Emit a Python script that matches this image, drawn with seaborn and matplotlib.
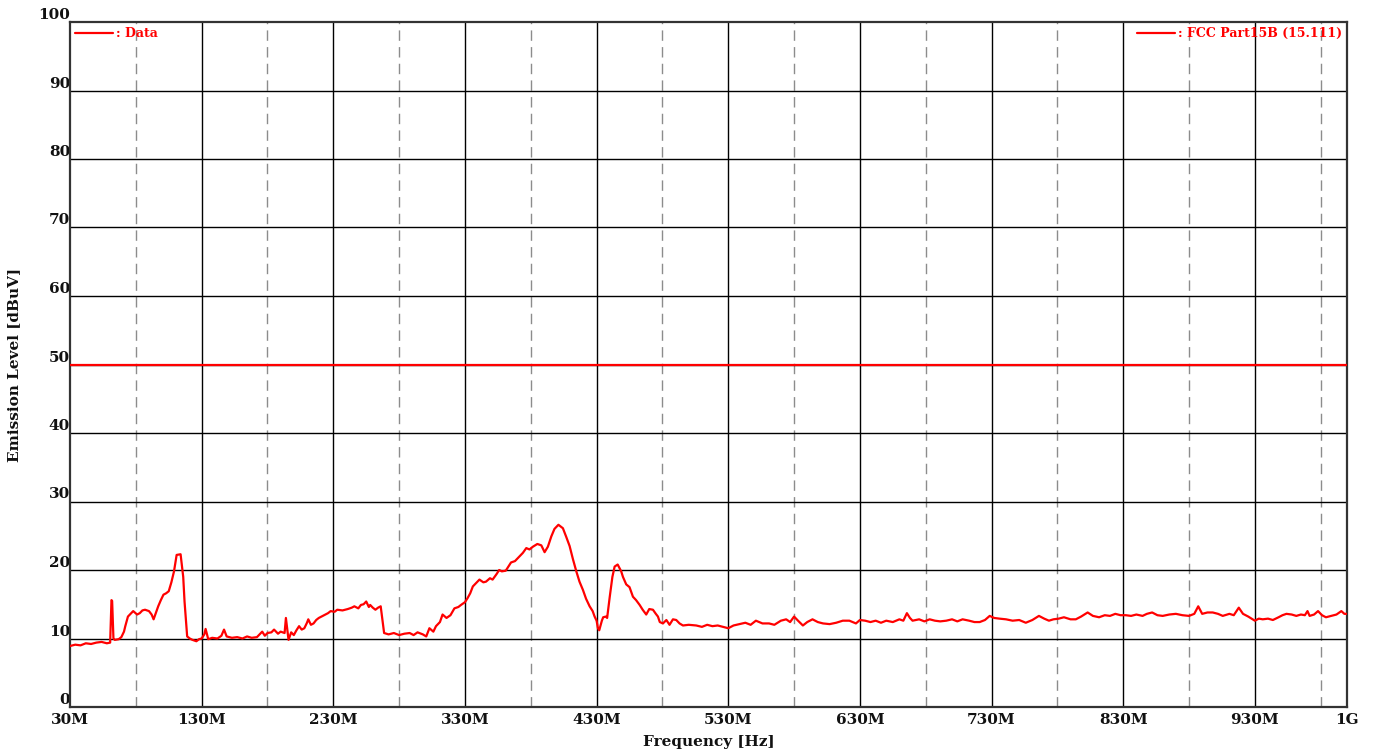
import numpy as np
import pandas as pd
import matplotlib
matplotlib.use("Agg")
import matplotlib.pyplot as plt
import seaborn as sns

# ---- data (frequency in MHz, level in dBuV) in bands ----
freq_a = [30, 34, 38, 42, 46, 50, 54, 58, 60.5, 61.5, 62, 63, 64, 67, 69, 71, 72, 74, 76, 78]
level_a = [8.9, 9.1, 9.0, 9.3, 9.2, 9.4, 9.5, 9.3, 9.4, 15.6, 15.5, 10.0, 9.8, 9.9, 10.2, 11.0, 11.8, 13.2, 13.6, 14.0]

freq_b = [81, 83, 85, 87, 90, 92, 93.5, 95, 97, 99, 101, 103, 105, 107, 109, 111, 114, 116, 117, 119]
level_b = [13.5, 13.7, 14.1, 14.2, 14.0, 13.5, 12.8, 13.6, 14.7, 15.6, 16.4, 16.6, 16.9, 18.2, 19.8, 22.2, 22.3, 19.0, 15.4, 10.3]

freq_c = [121, 123, 126, 128, 130, 132, 133, 135, 138, 142, 145, 147, 149, 153, 157, 161, 164.5, 168, 172, 176]
level_c = [10.0, 9.8, 9.6, 9.9, 10.0, 10.6, 11.4, 9.9, 10.1, 10.0, 10.4, 11.3, 10.3, 10.1, 10.2, 10.0, 10.3, 10.1, 10.2, 11.0]

freq_d = [178, 180, 183, 185, 188, 190, 193, 194, 196, 198, 200, 202, 204, 206, 208, 210, 211, 213, 215, 217]
level_d = [10.4, 10.8, 10.9, 11.3, 10.7, 11.0, 10.8, 13.0, 9.8, 10.9, 10.5, 11.2, 11.8, 11.3, 11.5, 12.3, 12.8, 12.0, 12.2, 12.7]

freq_e = [219, 222, 224, 226, 228, 231, 233, 237, 241, 244, 246, 249, 251, 253, 255, 257, 258, 260, 262, 264]
level_e = [13.0, 13.3, 13.5, 13.7, 14.0, 13.9, 14.2, 14.1, 14.3, 14.5, 14.7, 14.4, 14.9, 15.0, 15.4, 14.6, 14.9, 14.5, 14.2, 14.5]

freq_f = [266, 267.5, 268.6, 272, 276, 280, 284, 288, 291, 294, 298, 300.6, 303, 306, 308, 311, 313, 316, 319, 322]
level_f = [14.7, 12.5, 10.8, 10.6, 10.8, 10.5, 10.7, 10.8, 10.5, 10.9, 10.6, 10.3, 11.5, 11.0, 11.8, 12.4, 13.5, 13.0, 13.4, 14.4]

freq_g = [325, 327, 330, 332, 334, 336, 339, 341, 344, 346, 349, 351, 354, 356, 358, 361, 363, 365, 368, 371.5]
level_g = [14.6, 14.9, 15.3, 15.9, 16.6, 17.6, 18.2, 18.6, 18.2, 18.3, 18.8, 18.6, 19.4, 20.0, 19.8, 19.9, 20.5, 21.1, 21.3, 22.0]

freq_h = [374, 376.6, 379, 381.6, 385, 388, 390.5, 393, 395.6, 398, 401, 404.4, 407, 409.5, 412, 414.6, 417, 419.6, 422, 424.7]
level_h = [22.5, 23.2, 23.0, 23.4, 23.8, 23.6, 22.6, 23.4, 24.9, 26.0, 26.6, 26.1, 24.8, 23.5, 21.6, 19.8, 18.3, 17.1, 15.8, 14.7]

freq_i = [427, 428.5, 430, 431, 432, 434, 435, 437, 438, 440, 442, 443.7, 446, 448.7, 450, 452.5, 455, 457.6, 460, 462.7]
level_i = [14.0, 13.2, 12.6, 11.5, 11.2, 12.6, 13.1, 13.2, 13.0, 16.1, 19.0, 20.5, 20.8, 19.8, 19.0, 17.9, 17.5, 16.1, 15.6, 14.9]

freq_j = [465, 467.7, 470, 472.8, 475, 476.6, 478, 480.4, 483, 485.4, 488, 490.5, 493, 495.6, 500, 505.7, 510, 514, 518, 522]
level_j = [14.2, 13.5, 14.3, 14.2, 13.6, 13.2, 12.4, 12.2, 12.7, 12.0, 12.8, 12.7, 12.2, 11.9, 12.0, 11.9, 11.7, 12.0, 11.8, 11.9]

freq_k = [526, 530, 534, 538.6, 543, 547, 551, 556, 561, 565, 570, 574, 577, 580, 583, 586.7, 590, 594, 598, 602]
level_k = [11.7, 11.5, 11.9, 12.1, 12.3, 12.0, 12.6, 12.2, 12.2, 12.0, 12.6, 12.8, 12.4, 13.2, 12.6, 11.9, 12.4, 12.8, 12.4, 12.2]

freq_l = [607, 612, 617, 622, 627, 630, 634, 638, 642, 646, 650, 655, 660, 663, 665.7, 668, 670, 675, 679, 683]
level_l = [12.1, 12.3, 12.6, 12.6, 12.2, 12.7, 12.6, 12.4, 12.6, 12.3, 12.6, 12.4, 12.8, 12.6, 13.7, 13.0, 12.6, 12.8, 12.5, 12.8]

freq_m = [687, 691, 695.6, 700, 704, 708, 713, 717, 721, 725, 728.6, 732, 736, 741, 746, 751, 756, 761, 766, 770]
level_m = [12.6, 12.5, 12.6, 12.8, 12.5, 12.8, 12.6, 12.4, 12.4, 12.7, 13.3, 13.0, 12.9, 12.8, 12.6, 12.7, 12.3, 12.7, 13.3, 12.9]

freq_n = [773.6, 777, 781, 785, 790, 794, 798, 803, 807, 811.7, 816, 820, 824, 828, 832, 836, 840, 844.7, 848, 852]
level_n = [12.6, 12.8, 12.9, 13.1, 12.8, 12.8, 13.2, 13.8, 13.3, 13.1, 13.4, 13.3, 13.6, 13.4, 13.4, 13.3, 13.5, 13.3, 13.6, 13.8]

freq_o = [856, 860, 865, 870, 875, 880, 884, 887, 890, 894, 898, 902, 905.6, 910.7, 914, 917.8, 921, 925, 930, 933]
level_o = [13.4, 13.3, 13.5, 13.6, 13.4, 13.3, 13.6, 14.7, 13.6, 13.8, 13.8, 13.6, 13.3, 13.6, 13.4, 14.5, 13.6, 13.2, 12.6, 12.9]

freq_p = [936, 940, 943.7, 948, 951, 954, 958, 961.5, 965, 968, 970, 971.6, 975, 978, 981, 984, 988, 992, 995.7, 998, 1000]
level_p = [12.8, 12.9, 12.7, 13.1, 13.4, 13.6, 13.5, 13.3, 13.5, 13.4, 14.0, 13.3, 13.5, 14.0, 13.4, 13.1, 13.3, 13.5, 14.0, 13.6, 13.6]

limit_freq_mhz = [30, 1000]
limit_level = [50, 50]

x_tick_values = [30, 130, 230, 330, 430, 530, 630, 730, 830, 930, 1000]
x_tick_labels = ["30M", "130M", "230M", "330M", "430M", "530M", "630M", "730M",
                 "830M", "930M", "1G"]
y_ticks = [0, 10, 20, 30, 40, 50, 60, 70, 80, 90, 100]

freq_bands = [freq_a, freq_b, freq_c, freq_d, freq_e, freq_f, freq_g, freq_h,
              freq_i, freq_j, freq_k, freq_l, freq_m, freq_n, freq_o, freq_p]
level_bands = [level_a, level_b, level_c, level_d, level_e, level_f, level_g, level_h,
               level_i, level_j, level_k, level_l, level_m, level_n, level_o, level_p]
freq_all, level_all = [], []
for fb, lb in zip(freq_bands, level_bands):
    n = min(len(fb), len(lb))
    freq_all += fb[:n]
    level_all += lb[:n]

# ---- plotting ----
sns.set_theme(style="white")
plt.rcParams["font.family"] = ["DejaVu Serif"]
plt.rcParams["font.weight"] = "bold"

fig = plt.figure(figsize=(13.75, 7.49), dpi=100)
ax = fig.add_axes([70 / 1375, 1 - 707 / 749, 1277 / 1375, 685 / 749])

solid_x = [130, 230, 330, 430, 530, 630, 730, 830, 930]
dash_x = [80, 180, 280, 380, 480, 580, 680, 780, 880, 980]
for xv in solid_x:
    ax.axvline(xv, color="black", lw=1.0, zorder=1)
for xv in dash_x:
    ax.axvline(xv, color="#8c8c8c", lw=1.0, ls=(0, (7.5, 4.5)), zorder=1)
for yv in y_ticks[1:-1]:
    ax.axhline(yv, color="black", lw=1.0, zorder=1)

df = pd.DataFrame({"f": freq_all, "v": level_all})
lim = pd.DataFrame({"f": limit_freq_mhz, "v": limit_level})
sns.lineplot(data=df, x="f", y="v", color="red", lw=1.6, ax=ax, zorder=3,
             label=": Data", sort=False)
sns.lineplot(data=lim, x="f", y="v", color="red", lw=1.6, ax=ax, zorder=3,
             label=": FCC Part15B (15.111)")

ax.set_xlim(30, 1000)
ax.set_ylim(0, 100)

ax.set_xticks(x_tick_values)
ax.set_xticklabels(x_tick_labels, fontsize=11, fontweight="bold", family="DejaVu Serif",
                   color="#111111")
ax.set_yticks(y_ticks)
ax.set_yticklabels([str(v) for v in y_ticks], fontsize=11, fontweight="bold",
                   family="DejaVu Serif", va="bottom", color="#111111")
ax.tick_params(axis="x", length=0, pad=4)
ax.tick_params(axis="y", length=0, pad=0)

for s in ax.spines.values():
    s.set_color("#333333")
    s.set_linewidth(1.6)
    s.set_visible(True)

ax.set_xlabel("Frequency [Hz]", fontsize=11, fontweight="bold", family="DejaVu Serif",
              labelpad=6, color="#111111")
ax.set_ylabel("Emission Level [dBuV]", fontsize=11, fontweight="bold",
              family="DejaVu Serif", labelpad=12, color="#111111")

h, l = ax.get_legend_handles_labels()
leg1 = ax.legend([h[0]], [l[0]], loc="upper left", frameon=False,
                 handlelength=3, handletextpad=0.25, borderaxespad=0.0,
                 labelcolor="red",
                 prop={"family": "DejaVu Serif", "weight": "bold", "size": 9})
ax.add_artist(leg1)
ax.legend([h[1]], [l[1]], loc="upper right", frameon=False,
          handlelength=3, handletextpad=0.25, borderaxespad=0.0, labelcolor="red",
          prop={"family": "DejaVu Serif", "weight": "bold", "size": 9})

fig.savefig("out.png", dpi=100)
